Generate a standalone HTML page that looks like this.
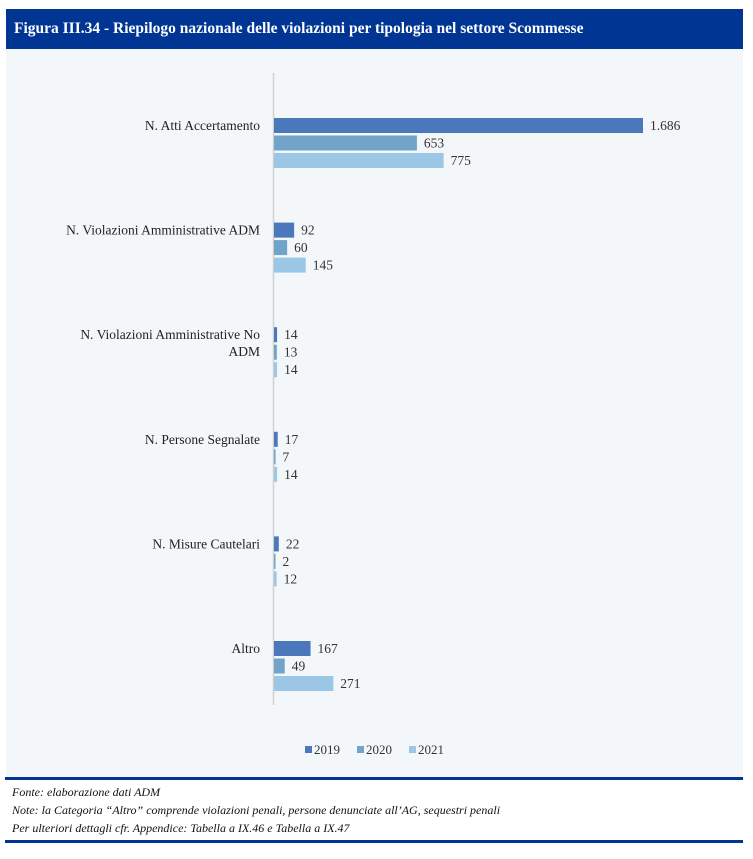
<!DOCTYPE html>
<html><head><meta charset="utf-8"><style>
body{margin:0;background:#fff;width:753px;height:859px;position:relative;font-family:"Liberation Serif",serif;}
#title{position:absolute;left:6px;top:9px;width:737px;height:40px;background:#003594;color:#fff;font-weight:bold;font-size:15.5px;line-height:40px;padding-left:8px;box-sizing:border-box;}
#chartbg{position:absolute;left:6px;top:49px;width:737px;height:728px;background:#f4f7fa;}
.rule{position:absolute;left:5px;width:738px;height:3px;background:#003594;}
.note{position:absolute;left:12px;font-style:italic;font-size:12px;color:#111;}
</style></head><body>
<div id="title">Figura III.34 - Riepilogo nazionale delle violazioni per tipologia nel settore Scommesse</div>
<div id="chartbg"></div>
<svg id="chart" width="753" height="859" style="position:absolute;left:0;top:0"></svg>
<div class="rule" style="top:777px"></div>
<div class="note" style="top:785px">Fonte: elaborazione dati ADM</div>
<div class="note" style="top:803px">Note: la Categoria “Altro” comprende violazioni penali, persone denunciate all’AG, sequestri penali</div>
<div class="note" style="top:821px">Per ulteriori dettagli cfr. Appendice: Tabella a IX.46 e Tabella a IX.47</div>
<div class="rule" style="top:840px"></div>
<script>
const categories=[["N. Atti Accertamento"],["N. Violazioni Amministrative ADM"],["N. Violazioni Amministrative No","ADM"],["N. Persone Segnalate"],["N. Misure Cautelari"],["Altro"]];
const seriesNames=["2019","2020","2021"];
const s2019=[1686,92,14,17,22,167];
const s2020=[653,60,13,7,2,49];
const s2021=[775,145,14,14,12,271];
const labels2019=["1.686","92","14","17","22","167"];
const labels2020=["653","60","13","7","2","49"];
const labels2021=["775","145","14","14","12","271"];
const colors=["#4a78ba","#72a3c9","#9cc6e5"];
const svg=document.getElementById('chart');
const NS="http://www.w3.org/2000/svg";
const x0=274,xScale=v=>x0+v*(369/1686);
const groupTop=i=>118+i*104.6;
function mk(t,a){const e=document.createElementNS(NS,t);for(const k in a)e.setAttribute(k,a[k]);svg.appendChild(e);return e;}
const ax=mk('line',{x1:273.5,y1:73,x2:273.5,y2:705,stroke:'#d0d0d0','stroke-width':1.5});


const all=[s2019,s2020,s2021],labs=[labels2019,labels2020,labels2021];
categories.forEach((c,i)=>{
  const gt=groupTop(i);
  const lines=c;
  lines.forEach((ln,j)=>{
    const t=mk('text',{x:260,y:gt+12+j*17-(lines.length>1?0:0),'text-anchor':'end','font-size':13.5,fill:'#222','font-family':'Liberation Serif, serif'});
    t.textContent=ln;
    
    
  });
  all.forEach((s,k)=>{
    const y=gt+k*17.5;
    const w=Math.max(xScale(s[i])-x0,1.5);
    const r=mk('rect',{x:x0,y:y,width:w,height:15,fill:colors[k]});
    
    
    const t=mk('text',{x:x0+w+7,y:y+12,'font-size':13.5,fill:'#333','font-family':'Liberation Serif, serif'});
    t.textContent=labs[k][i];
    
    
  });
});
let lx=305;
seriesNames.forEach((n,k)=>{
  const r=mk('rect',{x:lx,y:746,width:7,height:7,fill:colors[k]});
  
  
  const t=mk('text',{x:lx+9,y:754,'font-size':13,fill:'#333','font-family':'Liberation Serif, serif'});
  t.textContent=n;
  
  
  lx+=52;
});
</script>
</body></html>
